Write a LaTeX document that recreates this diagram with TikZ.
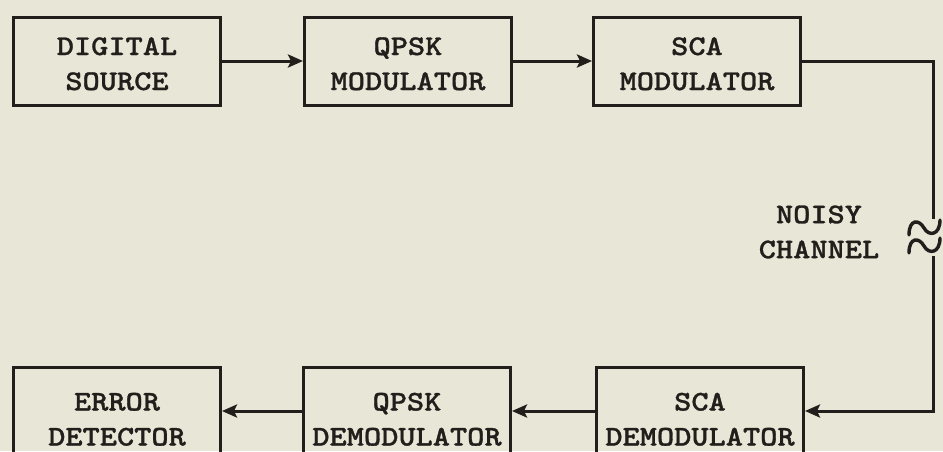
\documentclass[tikz,border=0pt]{standalone}
\usepackage{fontspec}
\newfontfamily\typer{lmmonolt10-bold.otf}[FakeStretch=1.15,FakeBold=1]
\usetikzlibrary{arrows.meta,positioning}
\definecolor{Paper}{RGB}{232,230,214}
\definecolor{Ink}{RGB}{33,30,28}

\begin{document}
\begin{tikzpicture}[x=1pt,y=-1pt,
  blk/.style={draw=Ink,line width=3pt,minimum width=207pt,minimum height=88pt,
    inner sep=0pt,align=center,text=Ink,text height=58pt,text depth=0pt,
    font=\typer\fontsize{28.5}{35}\selectfont},
  lowblk/.style={blk,text height=69pt},
  wire/.style={Ink,line width=3pt},
  flow/.style={wire,-{Stealth[length=15pt,width=13pt,inset=3pt]}}]
  \useasboundingbox (0,0) rectangle (943,451);
  \fill[Paper] (0,0) rectangle (943,451);
  \clip (0,0) rectangle (943,451);
  % transmitter chain
  \node[blk] (src)  at (117,61) {DIGITAL\\SOURCE};
  \node[blk] (qmod) at (408,61) {QPSK\\MODULATOR};
  \node[blk] (smod) at (697,61) {SCA\\MODULATOR};
  % receiver chain
  \node[lowblk] (err)  at (117,411) {ERROR\\DETECTOR};
  \node[lowblk] (qdem) at (407,411) {QPSK\\DEMODULATOR};
  \node[lowblk] (sdem) at (700,411) {SCA\\DEMODULATOR};
  \node[align=center,text=Ink,font=\typer\fontsize{28.5}{35}\selectfont]
    (chan) at (819,232) {NOISY\\CHANNEL};
  \coordinate (brkA) at (933,219);
  \coordinate (brkB) at (933,256);
  \draw[flow] (src) -- (qmod);
  \draw[flow] (qmod) -- (smod);
  \draw[wire] (smod.east) -| (brkA);
  \draw[flow] (brkB) |- (sdem.east);
  \draw[flow] (sdem) -- (qdem);
  \draw[flow] (qdem) -- (err);
  % break in the channel line
  \foreach \yy in {228,246}{
    \draw[wire,line width=3.4pt,line cap=round] (909,\yy+7) .. controls (909,\yy-9) and (919,\yy-9) .. (924,\yy)
      .. controls (929,\yy+9) and (940,\yy+7) .. (940,\yy-8);
  }
\end{tikzpicture}
\end{document}
